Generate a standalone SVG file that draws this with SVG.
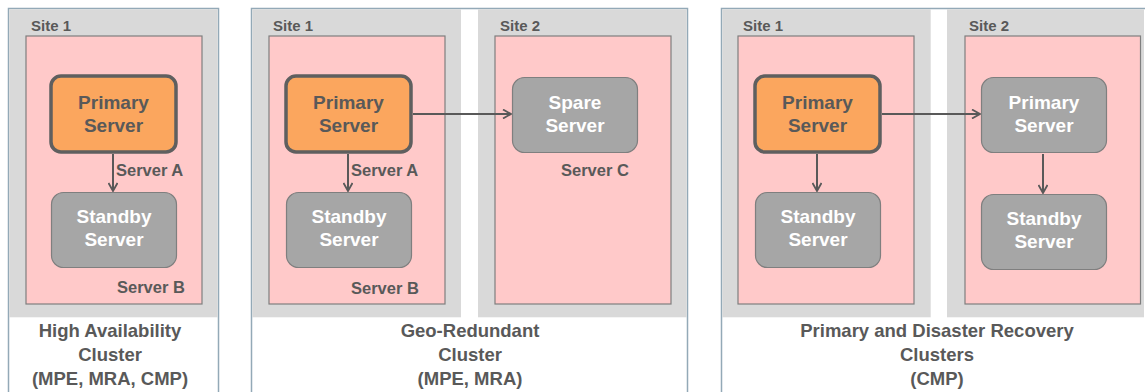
<svg xmlns="http://www.w3.org/2000/svg" width="1145" height="392" viewBox="0 0 1145 392">
  <style>
    text { font-family: "Liberation Sans", Arial, sans-serif; font-weight: bold; }
    .frame { fill: #ffffff; stroke: #93a9b7; stroke-width: 1.5; }
    .site { fill: #d9d9d9; }
    .zone { fill: #ffc9c9; stroke: #7f7f7f; stroke-width: 1.2; }
    .primary { fill: #fba65e; stroke: #5f5f5f; stroke-width: 3.5; }
    .gray { fill: #a6a6a6; stroke: #7f7f7f; stroke-width: 1.2; }
    .dark { fill: #595959; }
    .light { fill: #ffffff; }
    .srv { font-size: 19px; text-anchor: middle; }
    .lbl { font-size: 16.5px; }
    .site-lbl { font-size: 15px; fill: #595959; }
    .caption { font-size: 18.5px; fill: #595959; text-anchor: middle; }
    .conn { stroke: #595959; stroke-width: 2; fill: none; }
  </style>
  <defs>
    <marker id="arrow" viewBox="0 0 10 10" refX="9" refY="5" markerWidth="10" markerHeight="10" markerUnits="userSpaceOnUse" orient="auto">
      <path d="M1,0.5 L9,5 L1,9.5" fill="none" stroke="#595959" stroke-width="1.8"/>
    </marker>
  </defs>

  <!-- Cluster frames -->
  <g id="cluster-ha">
    <rect class="frame" x="8.5" y="8.5" width="210" height="390"/>
    <rect class="site" x="9.3" y="9.3" width="208.4" height="308"/>
    <rect class="zone" x="26" y="36" width="176" height="268"/>
    <text class="site-lbl" x="31" y="31">Site 1</text>
    <text class="caption" x="110" y="337">High Availability</text>
    <text class="caption" x="110" y="361">Cluster</text>
    <text class="caption" x="110" y="385">(MPE, MRA, CMP)</text>
  </g>
  <g id="cluster-geo">
    <rect class="frame" x="251.5" y="8.5" width="436" height="390"/>
    <rect class="site" x="252.3" y="9.3" width="208.7" height="308"/>
    <rect class="site" x="478" y="9.3" width="208.7" height="308"/>
    <rect class="zone" x="269" y="36" width="176" height="268"/>
    <rect class="zone" x="495" y="36" width="176" height="268"/>
    <text class="site-lbl" x="273" y="31">Site 1</text>
    <text class="site-lbl" x="500" y="31">Site 2</text>
    <text class="caption" x="470" y="337">Geo-Redundant</text>
    <text class="caption" x="470" y="361">Cluster</text>
    <text class="caption" x="470" y="385">(MPE, MRA)</text>
  </g>
  <g id="cluster-dr">
    <rect class="frame" x="721.5" y="8.5" width="430" height="390"/>
    <rect class="site" x="722.3" y="9.3" width="208.4" height="308"/>
    <rect class="site" x="947" y="9.3" width="197" height="308"/>
    <rect class="zone" x="738" y="36" width="176" height="268"/>
    <rect class="zone" x="965" y="36" width="175.5" height="268"/>
    <text class="site-lbl" x="743" y="31">Site 1</text>
    <text class="site-lbl" x="969" y="31">Site 2</text>
    <text class="caption" x="937" y="337">Primary and Disaster Recovery</text>
    <text class="caption" x="937" y="361">Clusters</text>
    <text class="caption" x="937" y="385">(CMP)</text>
  </g>

  <!-- Connectors -->
  <g id="connectors">
    <line class="conn" x1="113" y1="154" x2="113" y2="191" marker-end="url(#arrow)"/>
    <line class="conn" x1="348" y1="154" x2="348" y2="191" marker-end="url(#arrow)"/>
    <line class="conn" x1="413" y1="114" x2="511" y2="114" marker-end="url(#arrow)"/>
    <line class="conn" x1="817" y1="154" x2="817" y2="191" marker-end="url(#arrow)"/>
    <line class="conn" x1="882" y1="114" x2="980" y2="114" marker-end="url(#arrow)"/>
    <line class="conn" x1="1043" y1="154" x2="1043" y2="193" marker-end="url(#arrow)"/>
    <text class="lbl dark" x="116" y="176">Server A</text>
    <text class="lbl dark" x="351" y="176">Server A</text>
  </g>

  <!-- Servers: High Availability cluster -->
  <g id="ha-primary">
    <rect class="primary" x="51" y="76" width="125" height="76" rx="10"/>
    <text class="srv dark" x="113.5" y="109">Primary</text>
    <text class="srv dark" x="113.5" y="132">Server</text>
  </g>
  <g id="ha-standby">
    <rect class="gray" x="51.5" y="192.5" width="125" height="75" rx="12"/>
    <text class="srv light" x="114" y="223">Standby</text>
    <text class="srv light" x="114" y="246">Server</text>
    <text class="lbl dark" x="117" y="293">Server B</text>
  </g>

  <!-- Servers: Geo-Redundant cluster -->
  <g id="geo-primary">
    <rect class="primary" x="286" y="76" width="125" height="76" rx="10"/>
    <text class="srv dark" x="348.5" y="109">Primary</text>
    <text class="srv dark" x="348.5" y="132">Server</text>
  </g>
  <g id="geo-standby">
    <rect class="gray" x="286.5" y="192.5" width="125" height="75" rx="12"/>
    <text class="srv light" x="349" y="223">Standby</text>
    <text class="srv light" x="349" y="246">Server</text>
    <text class="lbl dark" x="351" y="294">Server B</text>
  </g>
  <g id="geo-spare">
    <rect class="gray" x="512.5" y="77.5" width="125" height="75" rx="12"/>
    <text class="srv light" x="575" y="109">Spare</text>
    <text class="srv light" x="575" y="132">Server</text>
    <text class="lbl dark" x="561" y="176">Server C</text>
  </g>

  <!-- Servers: Primary and Disaster Recovery clusters -->
  <g id="dr-primary">
    <rect class="primary" x="755" y="76" width="125" height="76" rx="10"/>
    <text class="srv dark" x="817.5" y="109">Primary</text>
    <text class="srv dark" x="817.5" y="132">Server</text>
  </g>
  <g id="dr-standby">
    <rect class="gray" x="755.5" y="192.5" width="125" height="75" rx="12"/>
    <text class="srv light" x="818" y="223">Standby</text>
    <text class="srv light" x="818" y="246">Server</text>
  </g>
  <g id="dr-site2-primary">
    <rect class="gray" x="981.5" y="77.5" width="125" height="75" rx="12"/>
    <text class="srv light" x="1044" y="109">Primary</text>
    <text class="srv light" x="1044" y="132">Server</text>
  </g>
  <g id="dr-site2-standby">
    <rect class="gray" x="981.5" y="194.5" width="125" height="75" rx="12"/>
    <text class="srv light" x="1044" y="225">Standby</text>
    <text class="srv light" x="1044" y="248">Server</text>
  </g>
</svg>
